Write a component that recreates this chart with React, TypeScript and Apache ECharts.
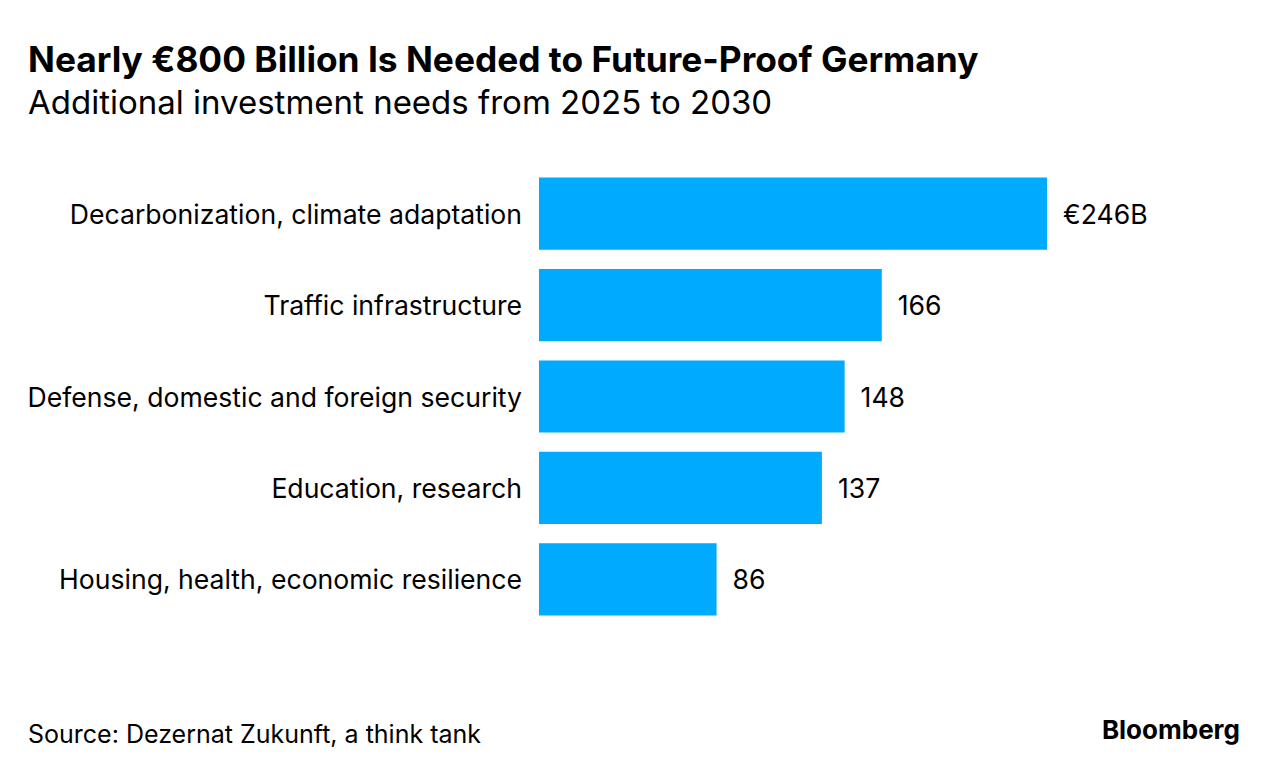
import React, { useEffect, useRef } from "react";
import * as echarts from "echarts";

const categories = [
  "Decarbonization, climate adaptation",
  "Traffic infrastructure",
  "Defense, domestic and foreign security",
  "Education, research",
  "Housing, health, economic resilience",
];
const values = [246, 166, 148, 137, 86];
const valueLabels = ["€246B", "166", "148", "137", "86"];

const titleText = "Nearly €800 Billion Is Needed to Future-Proof Germany";
const subtitleText = "Additional investment needs from 2025 to 2030";
const sourceText = "Source: Dezernat Zukunft, a think tank";
const FONT = "Inter, 'Liberation Sans', Arial, sans-serif";

export default function App() {
  const ref = useRef<HTMLDivElement>(null);
  useEffect(() => {
    if (!ref.current) return;
    const chart = echarts.init(ref.current, null, { renderer: "svg" });
    chart.setOption({
      animation: false,
      backgroundColor: "#ffffff",
      textStyle: { fontFamily: FONT },
      grid: { left: 539, top: 168, width: 619.5, height: 457, containLabel: false },
      xAxis: {
        type: "value",
        min: 0,
        max: 300,
        show: false,
      },
      yAxis: {
        type: "category",
        data: categories,
        inverse: true,
        axisLine: { show: false },
        axisTick: { show: false },
        splitLine: { show: false },
        axisLabel: {
          fontSize: 26.6,
          color: "#000",
          margin: 17,
          fontFamily: FONT,
          padding: [0, 0, 4, 0],
        },
      },
      series: [
        {
          type: "bar",
          data: values,
          barCategoryGap: "21%",
          itemStyle: { color: "#00aaff" },
          label: {
            show: true,
            position: "right",
            distance: 16,
            fontSize: 26.6,
            color: "#000",
            fontFamily: FONT,
            padding: [0, 0, 4, 0],
            formatter: (p: any) => valueLabels[p.dataIndex],
          },
        },
      ],
      graphic: [
        {
          type: "text",
          left: 28,
          top: 42,
          style: { text: titleText, fill: "#000", font: `bold 35.3px ${FONT}` },
        },
        {
          type: "text",
          left: 28,
          top: 85,
          style: { text: subtitleText, fill: "#000", font: `33px ${FONT}` },
        },
        {
          type: "text",
          left: 28,
          top: 721,
          style: { text: sourceText, fill: "#000", font: `25px ${FONT}` },
        },
        {
          type: "text",
          right: 39,
          top: 716,
          style: { text: "Bloomberg", fill: "#000", font: `bold 26px ${FONT}` },
        },
      ],
    });
    return () => chart.dispose();
  }, []);
  return (
    <div
      ref={ref}
      style={{ position: "fixed", left: 0, top: 0, width: 1279, height: 776 }}
    />
  );
}
